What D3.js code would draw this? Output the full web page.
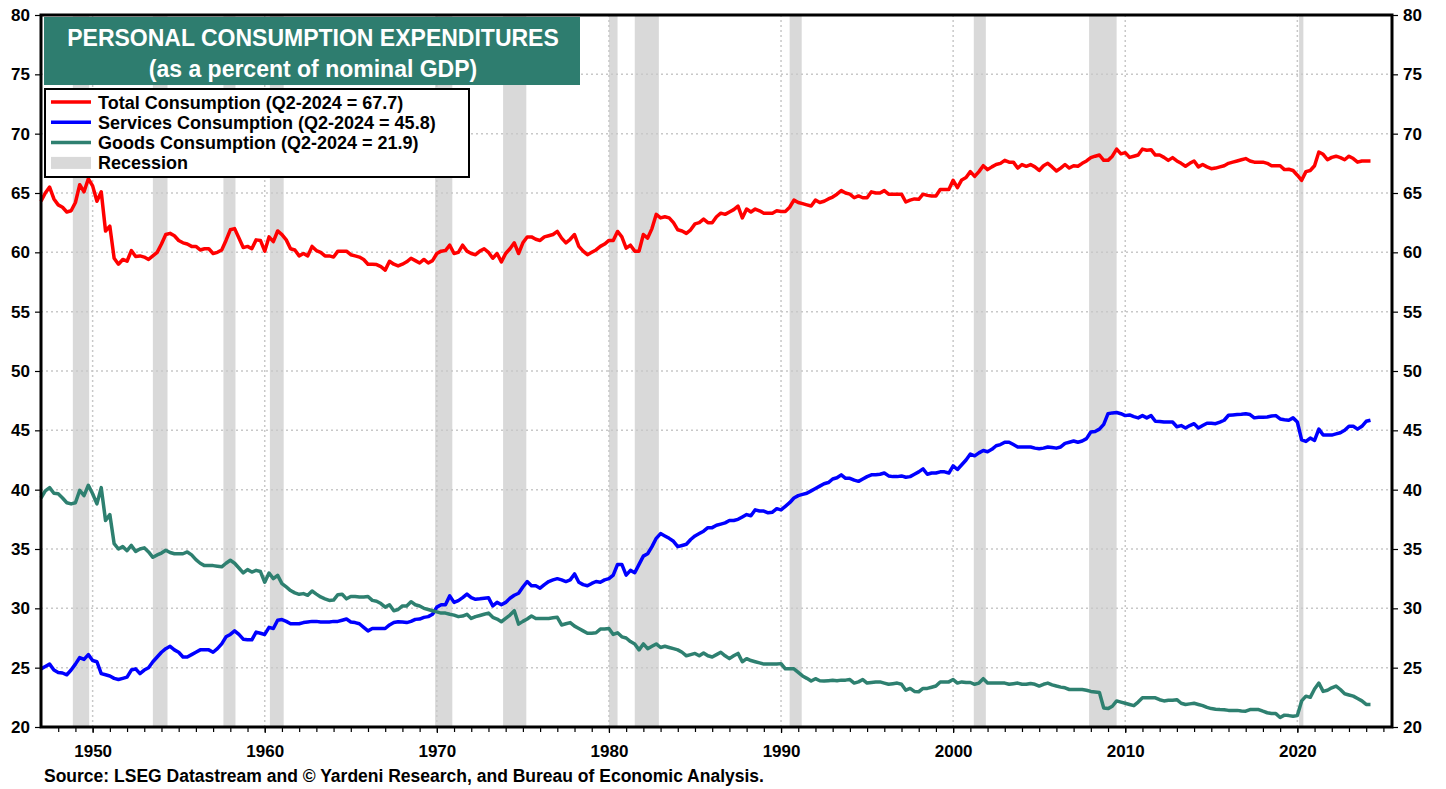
<!DOCTYPE html>
<html>
<head>
  <meta charset="utf-8">
  <title>Personal Consumption Expenditures</title>
  <style type="text/css">
    body { margin: 0; background: #fff; }
    svg { font-family: Arial, "Liberation Sans", sans-serif; font-weight: bold; }
  </style>
</head>
<body>
  <script src="https://cdn.jsdelivr.net/npm/d3@7/dist/d3.min.js"></script>
  <script type="text/javascript">
    // quarterly series, 1947Q1 .. 2024Q2 (percent of nominal GDP)
    var startYear = 1947;

    var total = [
      64.3, 65.0, 65.5, 64.5,  64.0, 63.8, 63.4, 63.5,  64.2, 65.7, 65.1, 66.2,  65.6, 64.3, 65.1, 61.8,
      62.2, 59.5, 59.0, 59.4,  59.25, 60.15, 59.65, 59.7,  59.6, 59.4, 59.7, 60.0,  60.7, 61.5, 61.6, 61.4,
      61.0, 60.8, 60.7, 60.5,  60.5, 60.2, 60.3, 60.3,  59.9, 60.0, 60.2, 61.0,  61.9, 62.0, 61.2, 60.4,
      60.5, 60.3, 61.05, 61.0,  60.1, 61.3, 60.9, 61.8,  61.5, 61.05, 60.3, 60.2,  59.7, 59.9, 59.7, 60.5,
      60.15, 60.0, 59.7, 59.7,  59.6, 60.1, 60.1, 60.1,  59.8, 59.7, 59.6, 59.4,  59.0, 59.0, 58.97, 58.8,
      58.5, 59.25, 59.0, 58.85,  59.0, 59.2, 59.5, 59.3,  59.1, 59.4, 59.1, 59.3,  59.9, 60.1, 60.15, 60.6,
      59.9, 60.0, 60.6, 60.1,  59.9, 59.8, 60.1, 60.3,  60.0, 59.5, 59.9, 59.2,  59.9, 60.3, 60.8, 59.9,
      60.8, 61.3, 61.3, 61.1,  61.0, 61.3, 61.4, 61.5,  61.76, 61.2, 60.8, 61.1,  61.5, 60.5, 60.1, 59.8,
      60.0, 60.2, 60.5, 60.7,  61.0, 61.0, 61.76, 61.3,  60.35, 60.6, 60.1, 60.1,  61.5, 61.2, 62.0, 63.2,
      62.9, 63.0, 62.9, 62.5,  61.9, 61.8, 61.6, 61.9,  62.4, 62.5, 62.8, 62.5,  62.5, 63.0, 63.3, 63.2,
      63.4, 63.6, 63.9, 62.9,  63.65, 63.4, 63.65, 63.5,  63.3, 63.3, 63.3, 63.5,  63.45, 63.45, 63.8, 64.4,
      64.2, 64.1, 64.0, 63.9,  64.4, 64.2, 64.3, 64.5,  64.66, 64.9, 65.2, 65.0,  64.9, 64.6, 64.75, 64.6,
      64.6, 65.1, 65.0, 65.0,  65.2, 64.9, 64.9, 64.9,  64.9, 64.24, 64.4, 64.5,  64.47, 64.9, 64.8, 64.75,
      64.75, 65.3, 65.3, 65.3,  66.07, 65.45, 66.1, 66.3,  66.8, 66.4, 66.8, 67.3,  66.97, 67.2, 67.4, 67.5,
      67.75, 67.6, 67.6, 67.1,  67.4, 67.25, 67.4, 67.2,  66.9, 67.3, 67.5, 67.2,  66.85, 67.1, 67.4, 67.1,
      67.3, 67.25, 67.5, 67.7,  67.98, 68.1, 68.2, 67.75,  67.75, 68.1, 68.7, 68.3,  68.4, 68.0, 68.1, 68.2,
      68.7, 68.6, 68.65, 68.2,  68.2, 68.0, 67.75, 67.98,  67.7, 67.5, 67.25, 67.5,  67.7, 67.2, 67.4, 67.2,
      67.05, 67.1, 67.2, 67.3,  67.5, 67.6, 67.7, 67.8,  67.9, 67.7, 67.6, 67.6,  67.6, 67.5, 67.3, 67.3,
      67.3, 66.97, 67.0, 66.9,  66.5, 66.07, 66.8, 66.9,  67.3, 68.45, 68.26, 67.8,  68.0, 68.1, 67.98, 67.8,
      68.1, 67.9, 67.6, 67.7,  67.7, 67.7
    ];

    var services = [
      24.9, 25.1, 25.3, 24.8,  24.6, 24.55, 24.4, 24.8,  25.3, 25.85, 25.7, 26.1,  25.6, 25.5, 24.5, 24.4,
      24.3, 24.1, 24.0, 24.1,  24.2, 24.8, 24.9, 24.5,  24.8, 25.0, 25.5, 25.9,  26.3, 26.6, 26.8, 26.5,
      26.3, 25.9, 25.9, 26.1,  26.3, 26.5, 26.5, 26.5,  26.3, 26.6, 27.0, 27.6,  27.8, 28.1, 27.8, 27.4,
      27.35, 27.35, 28.0, 27.9,  27.8, 28.4, 28.3, 29.0,  29.05, 28.9, 28.7, 28.7,  28.7, 28.8, 28.85, 28.9,
      28.9, 28.85, 28.85, 28.85,  28.9, 28.9, 29.0, 29.1,  28.85, 28.8, 28.7, 28.4,  28.1, 28.3, 28.3, 28.3,
      28.3, 28.6, 28.8, 28.87,  28.85, 28.8, 28.9, 29.07,  29.1, 29.24, 29.3, 29.5,  30.1, 30.3, 30.3, 31.05,
      30.5, 30.65, 30.9, 31.2,  30.9, 30.76, 30.8, 30.85,  30.9, 30.2, 30.5, 30.3,  30.5, 30.85, 31.1, 31.27,
      31.8, 32.26, 31.9, 31.9,  31.7, 32.0, 32.26, 32.4,  32.5, 32.4, 32.26, 32.4,  32.9, 32.2, 32.0, 31.9,
      32.1, 32.26, 32.2, 32.4,  32.5, 32.8, 33.7, 33.7,  32.8, 33.2, 33.0, 33.7,  34.4, 34.6, 35.2, 35.9,
      36.3, 36.1, 35.9, 35.65,  35.2, 35.3, 35.4, 35.8,  36.1, 36.3, 36.5, 36.8,  36.8, 37.0, 37.1, 37.2,
      37.4, 37.4, 37.5, 37.7,  37.9, 37.8, 38.3, 38.2,  38.2, 38.05, 38.1, 38.4,  38.3, 38.6, 38.9, 39.3,
      39.5, 39.6, 39.7, 39.9,  40.1, 40.3, 40.5, 40.6,  40.9, 41.0, 41.25, 40.96,  40.96, 40.8, 40.7, 40.9,
      41.1, 41.25, 41.25, 41.3,  41.4, 41.16, 41.1, 41.1,  41.16, 41.05, 41.1, 41.3,  41.5, 41.75, 41.3, 41.4,
      41.4, 41.5, 41.5, 41.4,  42.0, 41.7, 42.1, 42.5,  43.0, 42.85, 43.1, 43.3,  43.2, 43.4, 43.7, 43.8,
      44.0, 44.0, 43.8, 43.6,  43.6, 43.6, 43.6, 43.5,  43.45, 43.5, 43.6, 43.55,  43.5, 43.6, 43.9, 44.0,
      44.1, 44.0, 44.1, 44.3,  44.86, 44.9, 45.1, 45.5,  46.4, 46.47, 46.5, 46.4,  46.24, 46.3, 46.15, 46.05,
      46.24, 46.05, 46.24, 45.76,  45.75, 45.7, 45.7, 45.7,  45.3, 45.4, 45.2, 45.4,  45.56, 45.2, 45.4, 45.6,
      45.6, 45.56, 45.7, 45.85,  46.27, 46.3, 46.33, 46.35,  46.4, 46.33, 46.05, 46.1,  46.1, 46.13, 46.2, 46.24,
      45.96, 45.9, 45.85, 46.05,  45.7, 44.2, 44.07, 44.35,  44.15, 45.1, 44.6, 44.6,  44.6, 44.7, 44.8, 45.0,
      45.34, 45.34, 45.1, 45.34,  45.76, 45.85
    ];

    var goods = [
      39.3, 39.9, 40.17, 39.7,  39.66, 39.3, 38.9, 38.8,  38.9, 39.94, 39.5, 40.37,  39.66, 38.8, 40.17, 37.4,
      37.9, 35.45, 35.0, 35.2,  34.86, 35.3, 34.8, 35.0,  35.1, 34.75, 34.3, 34.5,  34.66, 34.9, 34.7, 34.6,
      34.6, 34.6, 34.75, 34.5,  34.1, 33.8, 33.6, 33.6,  33.6, 33.55, 33.5, 33.8,  34.05, 33.8, 33.4, 32.98,
      33.26, 33.06, 33.2, 33.1,  32.2, 32.98, 32.5, 32.78,  32.08, 31.8, 31.5, 31.3,  31.18, 31.24, 31.1, 31.46,
      31.2, 30.96, 30.8, 30.67,  30.7, 31.15, 31.18, 30.8,  31.0, 31.0, 30.96, 30.96,  31.0, 30.67, 30.6, 30.4,
      30.1, 30.3, 29.8, 29.9,  30.2, 30.2, 30.56, 30.3,  30.2, 30.0, 29.9, 29.8,  29.7, 29.6, 29.6, 29.5,
      29.43, 29.3, 29.35, 29.5,  29.15, 29.3, 29.4, 29.5,  29.6, 29.24, 29.1, 28.87,  29.15, 29.43, 29.8, 28.67,
      28.9, 29.1, 29.35, 29.15,  29.15, 29.15, 29.15, 29.2,  29.24, 28.6, 28.7, 28.8,  28.5, 28.3, 28.1, 27.9,
      27.9, 27.94, 28.25, 28.25,  28.3, 27.8, 27.94, 27.6,  27.5, 27.2, 27.0, 26.5,  27.0, 26.6, 26.8, 27.0,
      26.7, 26.8, 26.7, 26.6,  26.5, 26.3, 26.0, 26.1,  26.2, 26.0, 26.24, 26.0,  25.9, 26.1, 26.3, 26.0,
      25.76, 26.0, 26.2, 25.5,  25.76, 25.6, 25.5, 25.4,  25.3, 25.3, 25.3, 25.3,  25.34, 24.9, 24.9, 24.9,
      24.6, 24.3, 24.1, 23.87,  24.07, 23.9, 23.87, 23.9,  23.93, 23.9, 23.95, 23.95,  24.0, 23.7, 23.8, 24.0,
      23.7, 23.75, 23.8, 23.8,  23.7, 23.6, 23.65, 23.7,  23.6, 23.1, 23.25, 23.0,  22.97, 23.25, 23.25, 23.35,
      23.45, 23.8, 23.8, 23.8,  24.0, 23.7, 23.8, 23.75,  23.75, 23.6, 23.7, 24.07,  23.7, 23.7, 23.7, 23.7,
      23.7, 23.6, 23.65, 23.7,  23.6, 23.6, 23.67, 23.6,  23.45, 23.6, 23.7, 23.55,  23.45, 23.36, 23.3, 23.16,
      23.16, 23.16, 23.16, 23.1,  23.0, 22.95, 22.9, 21.6,  21.55, 21.75, 22.2, 22.1,  22.0, 21.9, 21.8, 22.1,
      22.46, 22.46, 22.46, 22.46,  22.3, 22.2, 22.25, 22.26,  22.3, 22.0, 21.9, 21.95,  22.0, 21.9, 21.8, 21.65,
      21.55, 21.5, 21.47, 21.45,  21.4, 21.4, 21.4, 21.35,  21.33, 21.47, 21.47, 21.47,  21.33, 21.2, 21.13, 21.13,
      20.8, 21.0, 20.96, 20.9,  20.96, 22.2, 22.6, 22.5,  23.2, 23.7, 23.0, 23.1,  23.3, 23.45, 23.16, 22.8,
      22.7, 22.6, 22.4, 22.2,  21.9, 21.9
    ];

    // NBER recessions (decimal years)
    var recessionStart = [1948.85, 1953.5, 1957.6, 1960.3, 1969.9, 1973.85, 1980.0, 1981.5, 1990.5, 2001.2, 2007.9, 2020.1];
    var recessionEnd   = [1949.8, 1954.35, 1958.3, 1961.1, 1970.9, 1975.2, 1980.5, 1982.9, 1991.2, 2001.9, 2009.5, 2020.35];

    var yTicks = [20, 25, 30, 35, 40, 45, 50, 55, 60, 65, 70, 75, 80];
    var xTicks = [1950, 1960, 1970, 1980, 1990, 2000, 2010, 2020];

    var seriesNames = ["Total Consumption (Q2-2024 = 67.7)", "Services Consumption (Q2-2024 = 45.8)", "Goods Consumption (Q2-2024 = 21.9)"];
    var seriesColors = ["#ff0000", "#0000ff", "#2e8070"];
    var seriesData = [total, services, goods];

    var w = 1446, h = 789;
    var pL = 41, pR = 1392, pT = 15, pB = 727;

    var x = d3.scaleLinear().domain([1947, 2025.5]).range([pL, pR]);
    var y = d3.scaleLinear().domain([20, 80]).range([pB, pT]);

    var svg = d3.select("body").append("svg")
      .attr("width", w)
      .attr("height", h);

    // recession bands
    svg.selectAll("rect.rec")
      .data(recessionStart)
      .enter().append("rect")
      .attr("class", "rec")
      .attr("x", (d, i) => x(d))
      .attr("width", (d, i) => x(recessionEnd[i]) - x(d))
      .attr("y", pT)
      .attr("height", pB - pT)
      .attr("fill", "#d9d9d9");

    // grid
    svg.selectAll("line.hgrid")
      .data(yTicks.slice(1, -1))
      .enter().append("line")
      .attr("x1", pL).attr("x2", pR)
      .attr("y1", d => y(d)).attr("y2", d => y(d))
      .attr("stroke", "#c8c8c8")
      .attr("stroke-width", 1.5)
      .attr("stroke-dasharray", "2,3");

    svg.selectAll("line.vgrid")
      .data(xTicks)
      .enter().append("line")
      .attr("x1", d => x(d)).attr("x2", d => x(d))
      .attr("y1", pT).attr("y2", pB)
      .attr("stroke", "#c8c8c8")
      .attr("stroke-width", 1.5)
      .attr("stroke-dasharray", "2,3");

    // lines
    var line = d3.line()
      .x((d, i) => x(startYear + i * 0.25))
      .y(d => y(d));

    svg.selectAll("path.series")
      .data(seriesData)
      .enter().append("path")
      .attr("class", "series")
      .attr("d", line)
      .attr("fill", "none")
      .attr("stroke", (d, i) => seriesColors[i])
      .attr("stroke-width", 3.5)
      .attr("stroke-linejoin", "round");

    // axes
    var yLeft = d3.axisLeft(y).tickValues(yTicks).tickSize(6).tickPadding(5);
    var yRight = d3.axisRight(y).tickValues(yTicks).tickSize(6).tickPadding(5);
    var xAxis = d3.axisBottom(x).tickValues(xTicks).tickFormat(d3.format("d")).tickSize(6).tickPadding(12);
    var xMinor = d3.axisBottom(x).tickValues(d3.range(1948, 2026)).tickFormat("").tickSize(5);

    function styleAxis(g) {
      g.select(".domain").remove();
      g.selectAll("line").attr("stroke", "#000").attr("stroke-width", 1.2);
      g.selectAll("text").attr("fill", "#000")
        .style("font-size", "17px").style("font-weight", "bold")
        .style("font-family", "Arial, 'Liberation Sans', sans-serif");
    }

    svg.append("g").attr("transform", "translate(" + pL + ",0)").call(yLeft).call(styleAxis);
    svg.append("g").attr("transform", "translate(" + pR + ",0)").call(yRight).call(styleAxis);
    svg.append("g").attr("transform", "translate(0," + pB + ")").call(xMinor).call(styleAxis);
    svg.append("g").attr("transform", "translate(0," + pB + ")").call(xAxis).call(styleAxis);

    // frame
    svg.append("rect")
      .attr("x", pL).attr("y", pT)
      .attr("width", pR - pL).attr("height", pB - pT)
      .attr("fill", "none")
      .attr("stroke", "#000")
      .attr("stroke-width", 3);

    // title box
    svg.append("rect")
      .attr("x", 44).attr("y", 17)
      .attr("width", 536).attr("height", 68)
      .attr("fill", "#2e7d6f");
    svg.append("text")
      .attr("x", 313).attr("y", 46)
      .attr("text-anchor", "middle")
      .attr("fill", "#fff")
      .style("font-size", "23px")
      .text("PERSONAL CONSUMPTION EXPENDITURES");
    svg.append("text")
      .attr("x", 313).attr("y", 77)
      .attr("text-anchor", "middle")
      .attr("fill", "#fff")
      .style("font-size", "23px")
      .text("(as a percent of nominal GDP)");

    // legend
    svg.append("rect")
      .attr("x", 45).attr("y", 89)
      .attr("width", 424).attr("height", 88)
      .attr("fill", "#fff")
      .attr("stroke", "#000")
      .attr("stroke-width", 2);

    var legend = svg.selectAll("g.leg")
      .data(seriesNames.concat(["Recession"]))
      .enter().append("g")
      .attr("transform", (d, i) => "translate(51," + (102 + i * 20.3) + ")");

    legend.each(function(d, i) {
      var g = d3.select(this);
      if (i < 3) {
        g.append("line").attr("x1", 0).attr("x2", 40).attr("y1", 0).attr("y2", 0)
          .attr("stroke", seriesColors[i]).attr("stroke-width", 3.5);
      } else {
        g.append("rect").attr("x", 0).attr("y", -6).attr("width", 40).attr("height", 12)
          .attr("fill", "#d9d9d9");
      }
      g.append("text").attr("x", 47).attr("y", 6.5)
        .attr("fill", "#000")
        .style("font-size", "18px")
        .text(d);
    });

    // source
    svg.append("text")
      .attr("x", 44).attr("y", 782)
      .attr("fill", "#000")
      .style("font-size", "17.5px")
      .text("Source: LSEG Datastream and \u00A9 Yardeni Research, and Bureau of Economic Analysis.");
  </script>
</body>
</html>
